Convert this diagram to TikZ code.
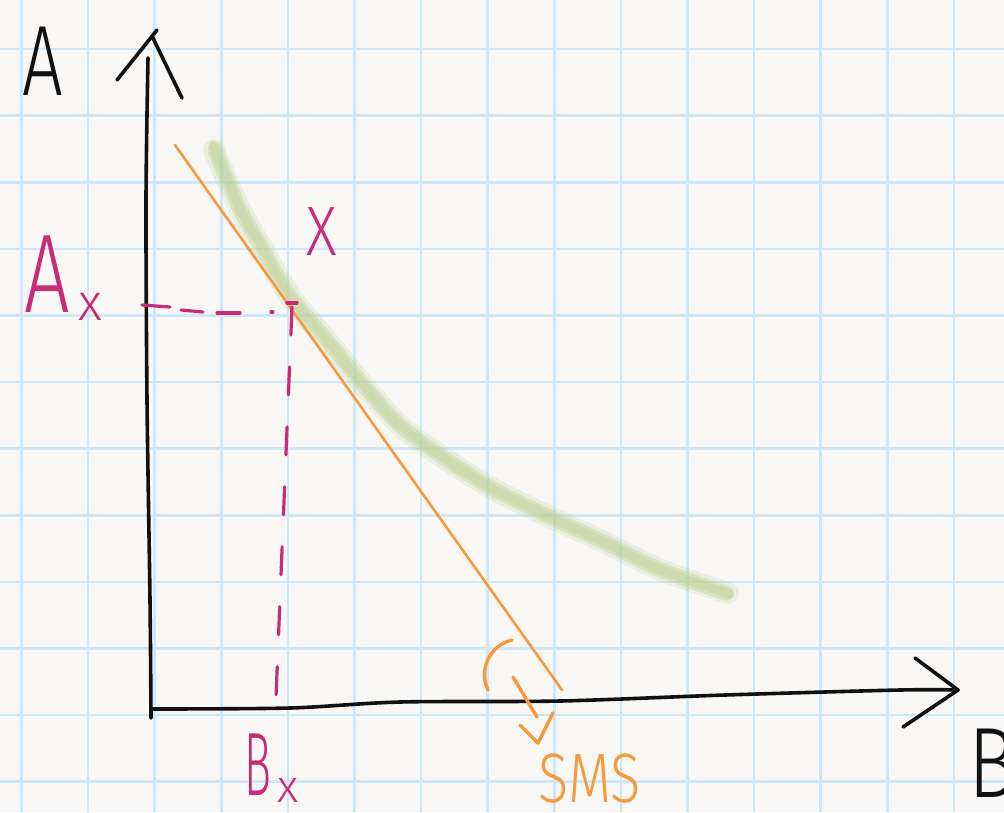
\documentclass[tikz,border=0pt]{standalone}
\usepackage{fontspec}
\setmainfont{Fira Sans}[UprightFont=* Light]
\definecolor{paper}{HTML}{F9F8F6}
\definecolor{gridblue}{HTML}{CFE8F7}
\definecolor{sorange}{HTML}{F59A3E}
\definecolor{smagenta}{HTML}{C82C74}
\definecolor{sgreen}{HTML}{B9CD8C}
\definecolor{ink}{HTML}{111111}
\tikzset{
  gridline/.style={draw=gridblue, line width=2.6pt},
  axisline/.style={draw=ink, line width=3.6pt, line cap=round, line join=round},
  orangeline/.style={draw=sorange, line width=2.6pt, line cap=round},
  orangepen/.style={draw=sorange, line width=3.4pt, line cap=round, line join=round},
  magdash/.style={draw=smagenta, line width=3.2pt, line cap=round},
  greenwide/.style={draw=sgreen, line width=22pt, line cap=round, opacity=0.22},
  greenmid/.style={draw=sgreen, line width=15pt, line cap=round, opacity=0.35},
  greencore/.style={draw=sgreen, line width=9pt, line cap=round, opacity=0.35},
  handtext/.style={inner sep=0pt, outer sep=0pt},
}
\begin{document}
\begin{tikzpicture}[x=1pt,y=-1pt]
\useasboundingbox (0,0) rectangle (1004,812);
\clip (0,0) rectangle (1004,812);
\fill[paper] (0,0) rectangle (1004,812);
% grid
\foreach \i in {0,...,14} \draw[gridline] ({21.5+66.6*\i},0) -- ++(0,812);
\foreach \j in {0,...,11} \draw[gridline] (0,{49+66.6*\j}) -- ++(1004,0);

% coordinates
\coordinate (ytop) at (148,58);
\coordinate (origin) at (151,718);
\coordinate (xstart) at (152,709);
\coordinate (xtip) at (958,690);
\coordinate (X) at (292,307);
\coordinate (o1) at (175,145);
\coordinate (o2) at (562,690);

% green curve
\draw[greenwide] plot[smooth] coordinates {(214,150) (239,207) (265,253) (291,297) (335,350) (365,387) (402,427) (447,460) (495,490) (550,517) (606,543) (661,570) (728,593)};
\draw[greenmid] plot[smooth] coordinates {(215,150) (239,207) (265,253) (291,297) (335,350) (365,387) (402,427) (447,460) (495,490) (550,517) (606,543) (661,570) (726,593)};
\draw[greencore] plot[smooth] coordinates {(213,145) (239,207) (265,253) (291,297) (335,350) (365,387) (402,427) (447,460) (495,490) (550,517) (606,543) (661,570) (730,594)};

% axes
\draw[axisline] plot[smooth] coordinates {(ytop) (146,200) (147,400) (150,600) (origin)};
\draw[axisline] plot[smooth] coordinates {(xstart) (290,708) (400,702) (560,701) (725,695) (900,690) (xtip)};
\draw[axisline] (117,80) -- (157,30);
\draw[axisline] (152,36) -- (182,98);
\draw[axisline] (915,658) -- (xtip) -- (903,727);

% orange budget line
\draw[orangeline] (o1) -- (o2);

% dashed guides
\draw[magdash] (142,305) -- (170,307);
\draw[magdash] (181,310) -- (203,312);
\draw[magdash] (217,313) -- (240,313);
\draw[magdash] (271,312) -- (273,312);
\draw[magdash] (287,303) -- (297,303);
\draw[magdash, dash pattern=on 28pt off 32pt] (X) -- (276,697);

% orange arrow
\draw[orangepen] (512,640) .. controls (490,645) and (478,670) .. (488,690);
\draw[orangepen] (513,677) -- (537,717);
\draw[orangepen] (520,725) -- (538,743) -- (553,713);

% labels
\node[handtext, font=\fontsize{100}{100}\selectfont, text=ink, xscale=0.72] (labA) at (43,61) {A};
\node[handtext, font=\fontsize{100}{100}\selectfont, text=ink, anchor=west, xscale=0.8] (labB) at (968,763) {B};
\node[handtext, font=\fontsize{112}{112}\selectfont, text=smagenta, xscale=0.72] (labAx) at (47,274) {A};
\node[handtext, font=\fontsize{52}{52}\selectfont, text=smagenta] (labAxs) at (90,307) {x};
\node[handtext, font=\fontsize{70}{70}\selectfont, text=smagenta, xscale=0.85] (labX) at (322,232) {X};
\node[handtext, font=\fontsize{90}{90}\selectfont, text=smagenta, xscale=0.5] (labBx) at (258,765) {B};
\node[handtext, font=\fontsize{46}{46}\selectfont, text=smagenta] (labBxs) at (288,790) {x};
\node[handtext, font=\fontsize{70}{70}\selectfont, text=sorange, xscale=0.8] (labSMS) at (590,779) {SMS};
\end{tikzpicture}
\end{document}
